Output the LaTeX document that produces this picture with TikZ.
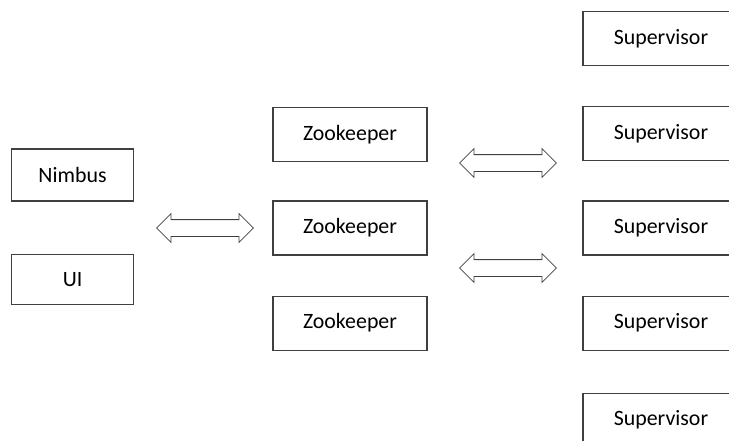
\documentclass[tikz,border=0pt]{standalone}
\usepackage{fontspec}
\setmainfont{Carlito}
\usetikzlibrary{positioning,shapes.arrows}
\tikzset{
  box/.style = {rectangle, draw=black!75, line width=0.8pt,
                minimum width=92pt, minimum height=39pt,
                inner sep=0pt, font=\fontsize{16.4}{19}\selectfont},
  zk/.style  = {box, minimum width=115.5pt, minimum height=40.5pt},
  sup/.style = {box, minimum width=117pt, minimum height=40.5pt},
  dbl/.style = {double arrow, draw=black!75, line width=0.6pt,
                minimum height=72.5pt, inner xsep=0pt, inner ysep=6pt,
                double arrow head extend=4.5pt, double arrow tip angle=90}
}
\begin{document}
\begin{tikzpicture}
  \useasboundingbox (0,0) rectangle (546.75pt,-330pt);
  \clip (0,0) rectangle (546.75pt,-330pt);
  % left side
  \node[box] (nimbus) at (54.4pt,-131.25pt) {Nimbus};
  \node[box,minimum height=37.5pt,below=39pt of nimbus] (ui) {UI};
  % zookeepers
  \node[zk] (zk2) at (262.5pt,-171pt) {Zookeeper};
  \node[zk,above=28.5pt of zk2] (zk1) {Zookeeper};
  \node[zk,below=30pt of zk2] (zk3) {Zookeeper};
  % supervisors
  \node[sup] (sup3) at (495.75pt,-171pt) {Supervisor};
  \node[sup,above=29.25pt of sup3] (sup2) {Supervisor};
  \node[sup,above=30pt of sup2] (sup1) {Supervisor};
  \node[sup,below=30pt of sup3] (sup4) {Supervisor};
  \node[sup,below=31.5pt of sup4] (sup5) {Supervisor};
  % links
  \node[dbl] (link1) at (153.75pt,-171pt) {};
  \node[dbl] (link2) at (381pt,-122.25pt) {};
  \node[dbl] (link3) at (381pt,-201pt) {};
\end{tikzpicture}
\end{document}
